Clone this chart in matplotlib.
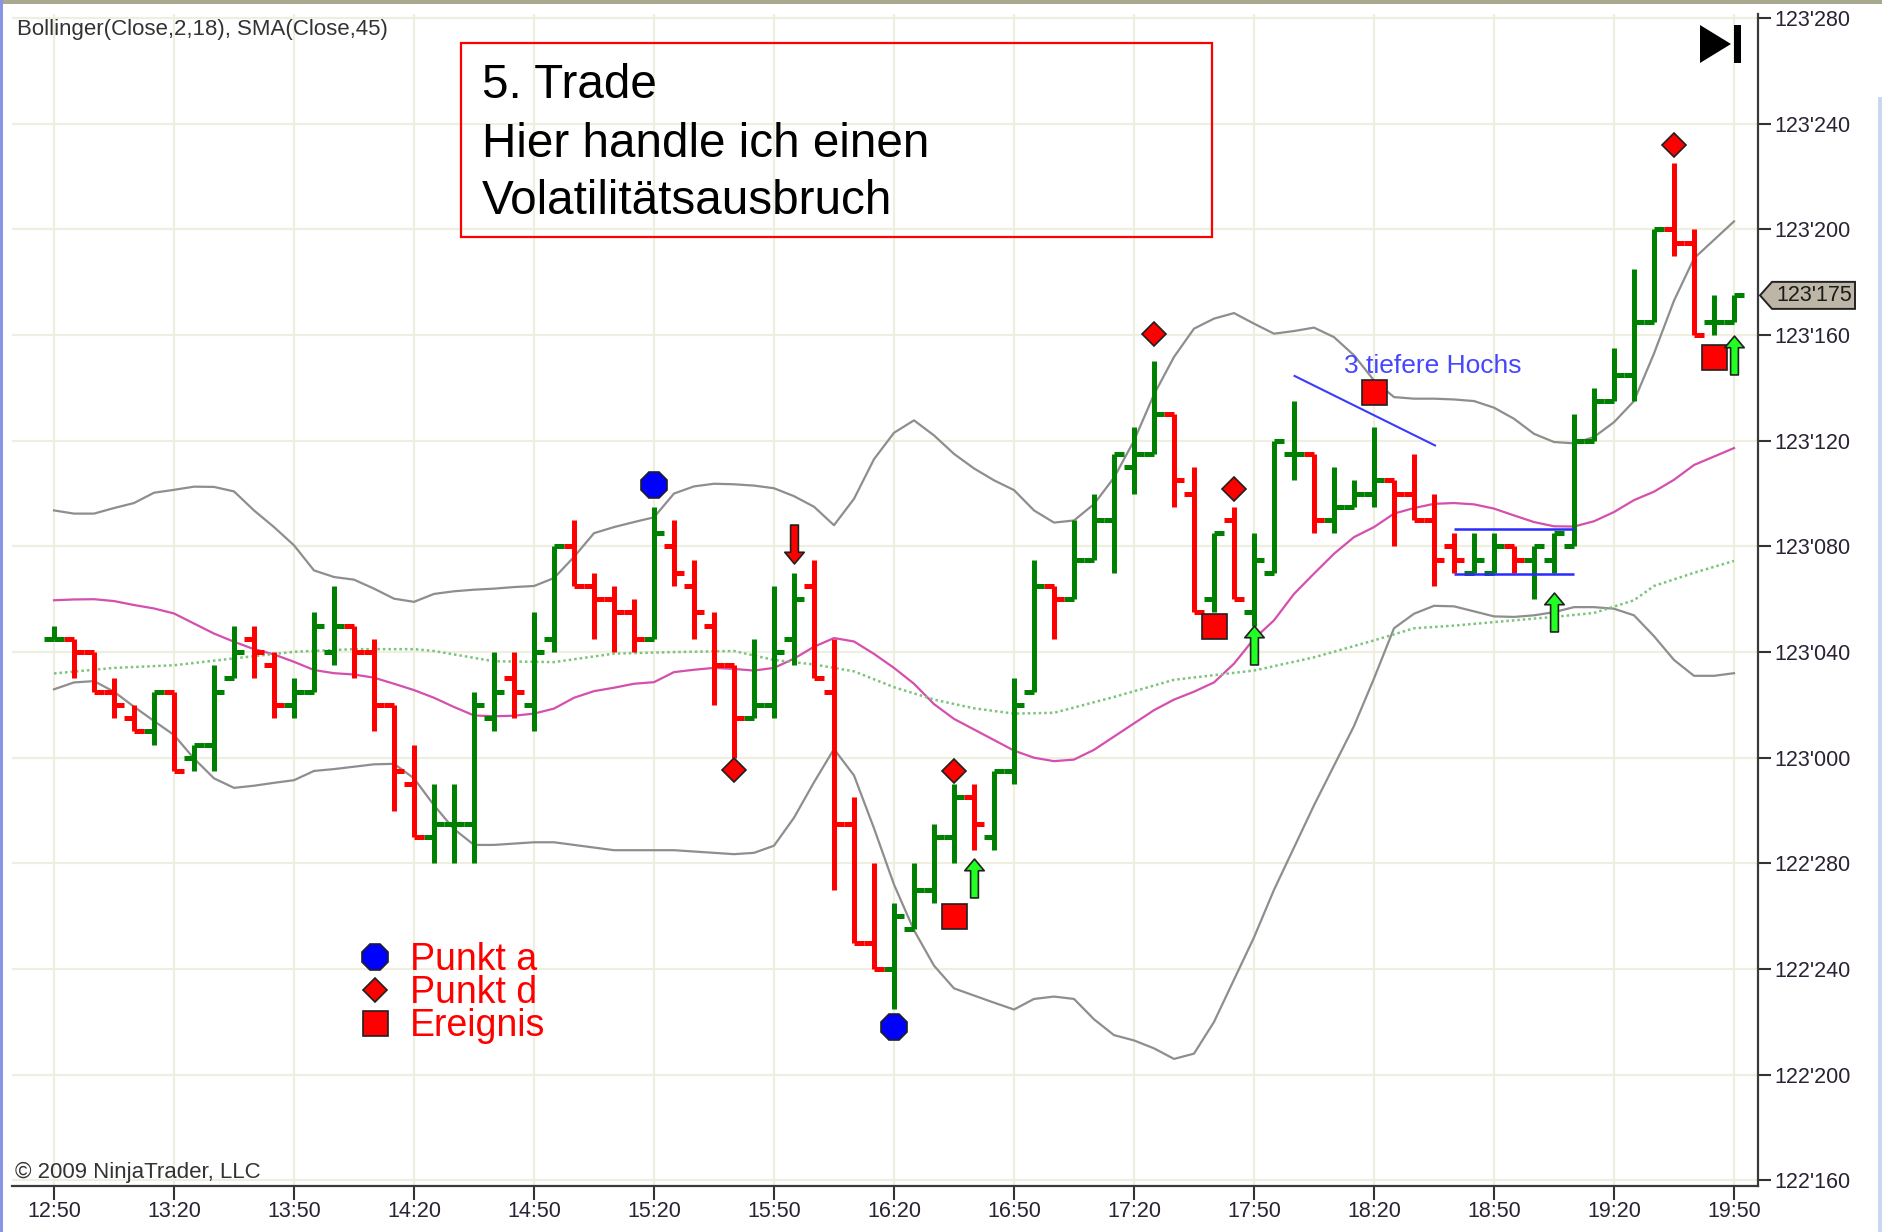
import matplotlib
matplotlib.use("Agg")
import matplotlib.pyplot as plt
from matplotlib.path import Path
from matplotlib.lines import Line2D
from matplotlib.patches import Polygon, Rectangle
import numpy as np

# 5-Minuten-Bars, Preise in 1/32 über 122 (z.B. 49.5 -> 123'175)
opens = np.array([36.5, 36.5, 36, 34.5, 33.5, 33, 34.5, 32, 32.5, 35,
                  36.5, 35.5, 34, 34.5, 36, 37, 36, 34, 31, 29,
                  29.5, 29.5, 33.5, 35, 34, 36.5, 40, 38.5, 38, 37.5,
                  36.5, 40, 38.5, 37, 35.5, 33.5, 34, 36.5, 38.5, 34.5,
                  29.5, 25, 24, 25.5, 27, 29, 30.5, 29, 31.5, 34.5,
                  38.5, 38, 39.5, 41, 43, 43.5, 45, 42, 38, 41,
                  37.5, 39, 43.5, 43.5, 41, 41.5, 42, 42.5, 42, 41,
                  40, 39, 39, 40, 39.5, 39.5, 40, 44, 45.5, 46.5,
                  48.5, 52, 51.5, 48.5, 48.5])
highs = np.array([37, 36.5, 36, 35, 34, 34.5, 34.5, 32.5, 35.5, 37,
                  37, 36, 35, 37.5, 38.5, 37, 36.5, 34, 32.5, 31,
                  31, 34.5, 36, 36, 37.5, 40, 41, 39, 38.5, 38,
                  41.5, 41, 39.5, 37.5, 35.5, 36.5, 38.5, 39, 39.5, 36.5,
                  30.5, 28, 26.5, 28, 29.5, 31, 31, 31.5, 35, 39.5,
                  38.5, 41, 42, 43.5, 44.5, 47, 45, 43, 40.5, 41.5,
                  40.5, 44, 45.5, 43.5, 43, 42.5, 44.5, 42.5, 43.5, 42,
                  40.5, 40.5, 40.5, 40, 40, 40.5, 45, 46, 47.5, 50.5,
                  52, 54.5, 52, 49.5, 49.5])
lows = np.array([36.5, 35, 34.5, 33.5, 33, 32.5, 31.5, 31.5, 31.5, 35,
                 35, 33.5, 33.5, 34.5, 35.5, 35, 33, 30, 29, 28,
                 28, 28, 33, 33.5, 33, 36, 38.5, 36.5, 36, 36,
                 36.5, 38.5, 36.5, 34, 32, 33.5, 33.5, 35.5, 35, 27,
                 25, 24, 22.5, 25.5, 26.5, 28, 28.5, 28.5, 31, 34.5,
                 36.5, 38, 39.5, 39, 42, 43.5, 41.5, 37.5, 37.5, 38,
                 37, 39, 42.5, 40.5, 40.5, 41.5, 41.5, 40, 41, 38.5,
                 39, 39, 39, 39, 38, 39, 40, 44, 45.5, 45.5,
                 48.5, 51, 48, 48, 48.5])
closes = np.array([36.5, 36, 34.5, 34, 33, 34.5, 31.5, 32.5, 34.5, 36,
                   36, 34, 34.5, 37, 37, 36, 34, 31.5, 29, 29.5,
                   29.5, 34, 34.5, 34.5, 36, 40, 38.5, 38, 37.5, 36.5,
                   40.5, 39, 37.5, 35.5, 33.5, 34, 36, 38, 35, 29.5,
                   25, 24, 26, 27, 29, 30.5, 29.5, 31.5, 34, 38.5,
                   38, 39.5, 41, 43.5, 43.5, 45, 42.5, 37.5, 40.5, 38,
                   39.5, 44, 43.5, 41, 41.5, 42, 42.5, 42, 41, 39.5,
                   39.5, 39.5, 40, 39.5, 40, 40.5, 44, 45.5, 46.5, 48.5,
                   52, 51.5, 48, 48.5, 49.5])

bb_upper = [41.36, 41.24, 41.24, 41.45, 41.64, 42.03, 42.14, 42.26, 42.25, 42.08,
            41.36, 40.73, 40.04, 39.09, 38.84, 38.74, 38.4, 38.02, 37.9, 38.2,
            38.3, 38.36, 38.4, 38.46, 38.5, 38.8, 39.6, 40.5, 40.73, 40.92,
            41.1, 42.0, 42.27, 42.37, 42.35, 42.3, 42.2, 41.9, 41.5, 40.8,
            41.8, 43.3, 44.3, 44.77, 44.2, 43.5, 42.95, 42.5, 42.13, 41.36,
            40.9, 40.98, 41.6, 42.6, 44.0, 45.75, 47.17, 48.24, 48.62, 48.83,
            48.43, 48.05, 48.15, 48.28, 47.92, 47.23, 46.28, 45.65, 45.59, 45.59,
            45.56, 45.5, 45.25, 44.83, 44.26, 43.95, 43.9, 44.14, 44.7, 45.5,
            47.3, 49.3, 50.9, 51.6, 52.3]
bb_middle = [37.96, 37.99, 38.0, 37.93, 37.78, 37.65, 37.46, 37.08, 36.7, 36.39,
             36.11, 35.91, 35.63, 35.32, 35.2, 35.15, 35.03, 34.8, 34.56, 34.27,
             33.92, 33.6, 33.57, 33.59, 33.67, 33.86, 34.27, 34.52, 34.65, 34.8,
             34.86, 35.24, 35.33, 35.4, 35.36, 35.3, 35.4, 35.75, 36.2, 36.53,
             36.4, 35.93, 35.4, 34.8, 34.03, 33.47, 33.07, 32.67, 32.27, 32.0,
             31.87, 31.93, 32.3, 32.8, 33.3, 33.8, 34.2, 34.5, 34.85, 35.56,
             36.5, 37.2, 38.2, 38.97, 39.72, 40.35, 40.73, 41.24, 41.45, 41.61,
             41.64, 41.59, 41.43, 41.17, 40.92, 40.76, 40.75, 40.95, 41.3, 41.75,
             42.07, 42.52, 43.08, 43.4, 43.72]
bb_lower = [34.59, 34.85, 34.9, 34.5, 33.93, 33.39, 32.86, 31.97, 31.22, 30.86,
            30.94, 31.05, 31.15, 31.5, 31.57, 31.66, 31.75, 31.77, 31.22, 30.2,
            29.3, 28.7, 28.7, 28.75, 28.8, 28.8, 28.7, 28.6, 28.5, 28.5,
            28.5, 28.5, 28.45, 28.4, 28.35, 28.4, 28.67, 29.73, 31.07, 32.33,
            31.33, 29.33, 27.2, 25.47, 24.13, 23.27, 23.0, 22.73, 22.47, 22.87,
            22.96, 22.87, 22.1, 21.5, 21.3, 21.0, 20.6, 20.8, 22.0, 23.6,
            25.2, 27.0, 28.6, 30.2, 31.7, 33.2, 35.0, 36.9, 37.45, 37.75,
            37.73, 37.54, 37.35, 37.33, 37.39, 37.51, 37.7, 37.7, 37.64, 37.39,
            36.6, 35.7, 35.1, 35.1, 35.2]
sma45_x = [0, 3, 6, 9, 12, 15, 18, 19, 22, 25, 28, 31, 34, 36, 38, 40, 42, 44,
           46, 48, 50, 53, 56, 60, 63, 66, 68, 70, 73, 75, 77, 79, 80, 82, 84]
sma45_y = [35.19, 35.4, 35.5, 35.76, 36.01, 36.11, 36.11, 36.04, 35.65, 35.62,
           35.94, 36.0, 36.04, 35.7, 35.53, 35.27, 34.67, 34.2, 33.87, 33.67,
           33.7, 34.3, 34.95, 35.3, 35.8, 36.44, 36.9, 37.0, 37.2, 37.33,
           37.48, 37.96, 38.5, 39.0, 39.45]

# Signale
punkt_a_x = [30, 42]
punkt_a_y = [42.31, 21.8]
punkt_d_x = [34, 45, 55, 59, 81]
punkt_d_y = [31.52, 31.5, 48.05, 42.18, 55.19]
ereignis_x = [45, 58, 66, 83]
ereignis_y = [26.0, 37.0, 45.84, 47.18]
long_x = [46, 60, 75, 84]
long_y = [27.44, 36.25, 37.5, 47.25]
short_x = [37]
short_y = [40.1]

trend_x = [62.03, 69.05]
trend_y = [46.45, 43.82]
range_x = [70, 76]
range_y = [38.94, 40.67]

tick_pos = list(range(0, 85, 6))
tick_times = ["12:50", "13:20", "13:50", "14:20", "14:50", "15:20", "15:50", "16:20",
              "16:50", "17:20", "17:50", "18:20", "18:50", "19:20", "19:50"]
price_ticks = list(range(16, 61, 4))

W, H = 1883, 1232


def fx(x):
    return x / W


def fy(y):
    return 1 - y / H


def price_label(v, pos=None):
    t = int(round(v * 10))
    return f"{122 + t // 320}'{t % 320:03d}"


plt.rcParams['font.family'] = ['Liberation Sans', 'DejaVu Sans']

fig = plt.figure(figsize=(W / 100, H / 100), dpi=100)
ax = fig.add_axes([fx(12), fy(1186), (1758 - 12) / W, (1186 - 14) / H])
ax.set_xlim(-2.1, 85.2)
ax.set_ylim(15.79, 60.15)

idx = np.arange(len(closes))
cols = np.where(closes >= opens, '#008000', '#ff0000')
ax.vlines(idx, lows, highs, colors=cols, lw=3.6, capstyle='butt', zorder=4)
ax.hlines(opens, idx - 0.48, idx, colors=cols, lw=3.6, zorder=4)
ax.hlines(closes, idx, idx + 0.48, colors=cols, lw=3.6, zorder=4)

ax.plot(idx, bb_upper, color='#8e8e8e', lw=1.6, zorder=3)
ax.plot(idx, bb_lower, color='#8e8e8e', lw=1.6, zorder=3)
ax.plot(idx, bb_middle, color='#d44fae', lw=1.6, zorder=3)
ax.plot(sma45_x, sma45_y, color='#7cc47c', lw=1.8, ls=(0, (1, 1.2)), zorder=3)

# Pfeile als eigene Marker
up_arrow = Path([(-0.2, -1), (0.2, -1), (0.2, 0.4), (0.5, 0.4), (0, 1),
                 (-0.5, 0.4), (-0.2, 0.4), (-0.2, -1)], closed=True)
down_arrow = Path([(x, -y) for x, y in up_arrow.vertices], closed=True)

mk = dict(ls='none', mec='#202020', mew=1.2, zorder=6)
ax.plot(punkt_a_x, punkt_a_y, marker='8', ms=19.5, mfc='#0000ff', **mk)
ax.plot(punkt_d_x, punkt_d_y, marker='D', ms=12, mfc='#ff0000', **mk)
ax.plot(ereignis_x, ereignis_y, marker='s', ms=18, mfc='#ff0000', **mk)
ax.plot(long_x, long_y, marker=up_arrow, ms=28, mfc='#22ff22', **mk)
ax.plot(short_x, short_y, marker=down_arrow, ms=28, mfc='#ff0000', **mk)

ax.plot(trend_x, trend_y, color='#3a3aff', lw=1.5, zorder=5)
ax.hlines(range_y, range_x[0], range_x[1], colors='#2a2aff', lw=1.8, zorder=5)
ax.text(68.95, 46.83, "3 tiefere Hochs", color='#4646ff', fontsize=19,
        ha='center', va='center', zorder=6)

# Achsen
ax.set_xticks(tick_pos)
ax.set_xticklabels(tick_times)
ax.set_yticks(price_ticks)
ax.yaxis.set_major_formatter(plt.FuncFormatter(price_label))
ax.yaxis.tick_right()
ax.tick_params(axis='y', length=9, width=1.5, color='#333333', labelsize=15.5,
               labelcolor='#2b2233', pad=3)
ax.tick_params(axis='x', length=10, width=1.5, color='#333333', labelsize=15.5,
               labelcolor='#2b2233', pad=0.5)
ax.grid(True, color='#efefe0', lw=1.6)
ax.set_axisbelow(True)
for s in ['top', 'left']:
    ax.spines[s].set_visible(False)
for s in ['right', 'bottom']:
    ax.spines[s].set_color('#3a3a3a')
    ax.spines[s].set_linewidth(1.6)

# Legende
handles = [Line2D([], [], marker='8', ms=19.5, mfc='#0000ff', **mk),
           Line2D([], [], marker='D', ms=12, mfc='#ff0000', **mk),
           Line2D([], [], marker='s', ms=18, mfc='#ff0000', **mk)]
ax.legend(handles, ['Punkt a', 'Punkt d', 'Ereignis'], loc='upper left',
          bbox_to_anchor=(fx(356), fy(942)), bbox_transform=fig.transFigure,
          frameon=False, fontsize=27, labelcolor='#ff0000', handlelength=1.0,
          handletextpad=0.43, labelspacing=-0.08, borderpad=0, borderaxespad=0)

# Texte
fig.text(fx(17), fy(35), "Bollinger(Close,2,18), SMA(Close,45)", fontsize=16,
         color='#333333', va='baseline')
fig.text(fx(15), fy(1178), "© 2009 NinjaTrader, LLC", fontsize=16,
         color='#333333', va='baseline')

fig.add_artist(Rectangle((fx(461), fy(237)), (1212 - 461) / W, (237 - 43) / H,
                         transform=fig.transFigure, fill=False, ec='#ff0000', lw=1.6))
for line, base in zip(["5. Trade", "Hier handle ich einen", "Volatilitätsausbruch"],
                      [98, 157, 214]):
    fig.text(fx(482), fy(base), line, fontsize=34.3, color='black', va='baseline')

# Kursschild am rechten Rand
disp = ax.transData.transform((0, closes[-1]))
yc = H - disp[1]
tag = [(1760, yc), (1772, yc - 13.5), (1855, yc - 13.5), (1855, yc + 13.5), (1772, yc + 13.5)]
fig.add_artist(Polygon([(fx(x), fy(y)) for x, y in tag], closed=True,
                       transform=fig.transFigure, fc='#bdb6a6', ec='#222222', lw=1.4))
fig.text(fx(1814), fy(yc), price_label(closes[-1]), fontsize=15.5, color='#1a1a1a',
         ha='center', va='center')

# Symbol oben rechts
fig.add_artist(Polygon([(fx(1700), fy(25)), (fx(1700), fy(63)), (fx(1731), fy(44))],
                       closed=True, transform=fig.transFigure, fc='black', ec='none'))
fig.add_artist(Rectangle((fx(1734), fy(63)), 7 / W, 38 / H, transform=fig.transFigure,
                         fc='black', ec='none'))

# Fensterrahmen
fig.add_artist(Rectangle((0, fy(4)), 1, 4 / H, transform=fig.transFigure,
                         fc='#a9a98f', ec='none'))
fig.add_artist(Rectangle((0, 0), 3 / W, 1, transform=fig.transFigure,
                         fc='#8894e6', ec='none'))
fig.add_artist(Rectangle((fx(1878), 0), 5 / W, fy(97), transform=fig.transFigure,
                         fc='#c8d8f0', ec='none'))

fig.savefig("out.png", dpi=100)
